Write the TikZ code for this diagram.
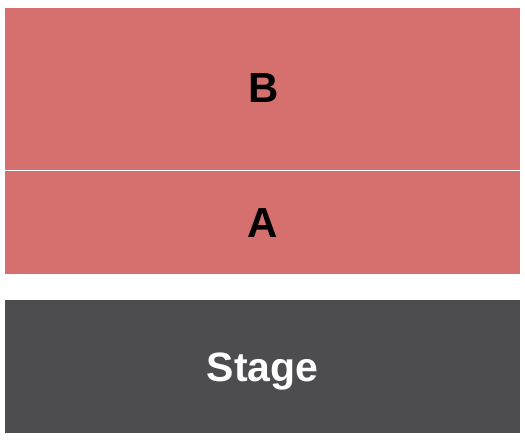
\documentclass[tikz,border=0pt]{standalone}
\usepackage{fontspec}
\setmainfont{Liberation Sans}
\definecolor{sect}{HTML}{D6706F}
\definecolor{stagec}{HTML}{4D4C4F}
\begin{document}
\begin{tikzpicture}[x=1pt,y=-1pt,
  lbl/.style={anchor=base,inner sep=0pt,font=\bfseries\fontsize{42}{42}\selectfont}]
\useasboundingbox (0,0) rectangle (525,440);
\fill[white] (0,0) rectangle (525,440);
\fill[sect] (5,8) rectangle (520,170);
\fill[sect] (5,171) rectangle (520,274);
\fill[stagec] (5,300) rectangle (520,433);
\node[lbl] (B) at (263.5,102.5) {B};
\node[lbl] (A) at (262.5,237.5) {A};
\node[lbl,text=white,font=\bfseries\fontsize{41}{41}\selectfont] (S) at (262.5,381) {Stage};
\end{tikzpicture}
\end{document}
